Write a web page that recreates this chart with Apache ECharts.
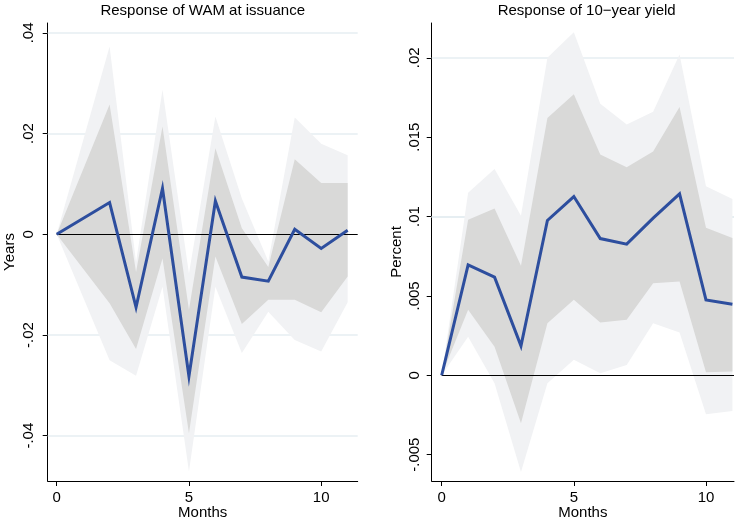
<!DOCTYPE html>
<html>
<head>
<meta charset="utf-8">
<script src="https://cdn.jsdelivr.net/npm/echarts@6/dist/echarts.min.js"></script>
<style>html,body{margin:0;padding:0;background:#fff}#c{width:735px;height:525px}</style>
</head>
<body>
<div id="c"></div>
<script>
// ---------- Data: Response of WAM at issuance (Years) ----------
const wamMonths   = [0, 2, 3, 4, 5, 6, 7, 8, 9, 10, 11];
const wamIRF      = [0, 0.0063, -0.0145, 0.0091, -0.0282, 0.0066, -0.0085, -0.0093, 0.0010, -0.0028, 0.0008];
const wamInnerUp  = [0, 0.0258, -0.0075, 0.0214, -0.0150, 0.0171, 0.0012, -0.0065, 0.0149, 0.0102, 0.0102];
const wamOuterUp  = [0, 0.0373, -0.0055, 0.0287, -0.0078, 0.0234, 0.0071, -0.0054, 0.0232, 0.0180, 0.0157];
const wamInnerLo  = [0, -0.0137, -0.0228, -0.0048, -0.0395, -0.0044, -0.0178, -0.0130, -0.0130, -0.0155, -0.0084];
const wamOuterLo  = [0, -0.0250, -0.0281, -0.0104, -0.0471, -0.0104, -0.0236, -0.0154, -0.0210, -0.0233, -0.0135];
const wamYTicks   = [-0.04, -0.02, 0, 0.02, 0.04];

// ---------- Data: Response of 10-year yield (Percent) ----------
const yldMonths   = [0, 1, 2, 3, 4, 5, 6, 7, 8, 9, 10, 11];
const yldIRF      = [0, 0.00696, 0.00618, 0.00185, 0.00975, 0.01126, 0.00861, 0.00826, 0.00990, 0.01143, 0.00475, 0.00448];
const yldInnerUp  = [0, 0.0098, 0.0105, 0.0069, 0.0162, 0.0177, 0.0139, 0.0131, 0.0141, 0.0169, 0.0093, 0.00864];
const yldOuterUp  = [0, 0.0115, 0.0130, 0.01005, 0.0200, 0.0216, 0.0171, 0.0158, 0.0166, 0.0202, 0.0119, 0.0111];
const yldInnerLo  = [0, 0.00412, 0.0018, -0.00303, 0.00328, 0.00475, 0.00332, 0.00349, 0.0058, 0.0059, 0.00019, 0.00023];
const yldOuterLo  = [0, 0.00243, -0.0005, -0.0061, -0.0005, 0.00097, 0.00013, 0.00065, 0.00328, 0.00269, -0.00246, -0.00225];
const yldYTicks   = [-0.005, 0, 0.005, 0.01, 0.015, 0.02];

const xTicks = [0, 5, 10];
const titles = ['Response of WAM at issuance', 'Response of 10\u2212year yield'];
const yNames = ['Years', 'Percent'];
const xName = 'Months';

// ---------- helpers ----------
const FONT = 'Liberation Sans, Arial, Helvetica, sans-serif';
const FS = 15;
const pairs = (xs, ys) => xs.map((x, i) => [x, ys[i]]);
function stataFmt(v) {
  if (Math.abs(v) < 1e-12) return '0';
  let s = String(+v.toPrecision(6));
  return s.replace(/^(-?)0\./, '$1.');
}

const panels = [
  { months: wamMonths, irf: wamIRF, iu: wamInnerUp, ou: wamOuterUp, il: wamInnerLo, ol: wamOuterLo,
    ticks: wamYTicks, xmin: -0.34, xmax: 11.38, ymin: -0.049, ymax: 0.04197 },
  { months: yldMonths, irf: yldIRF, iu: yldInnerUp, ou: yldOuterUp, il: yldInnerLo, ol: yldOuterLo,
    ticks: yldYTicks, xmin: -0.378, xmax: 11.06, ymin: -0.00666, ymax: 0.02219 }
];

const grids = [
  { left: 47.7, right: 377.3, top: 23, bottom: 44, outerBoundsMode: 'none', containLabel: false },
  { left: 431.7, right: 1, top: 23, bottom: 44, outerBoundsMode: 'none', containLabel: false }
];

// band drawn as one polygon through the axis scales (api.coord)
function bandSeries(g, months, lo, hi, color, z) {
  return {
    type: 'custom', xAxisIndex: g, yAxisIndex: g, silent: true, z: z, clip: true,
    data: pairs(months, hi),
    renderItem: function (params, api) {
      if (params.dataIndex !== 0) return null;
      const pts = [];
      for (let i = 0; i < months.length; i++) pts.push(api.coord([months[i], hi[i]]));
      for (let i = months.length - 1; i >= 0; i--) pts.push(api.coord([months[i], lo[i]]));
      return { type: 'polygon', shape: { points: pts }, style: { fill: color, stroke: null } };
    }
  };
}

const xAxes = [], yAxes = [], series = [];
panels.forEach((p, g) => {
  xAxes.push({
    type: 'value', gridIndex: g, min: p.xmin, max: p.xmax,
    name: xName, nameLocation: 'middle', nameGap: 24, nameMoveOverlap: false,
    nameTextStyle: { fontFamily: FONT, fontSize: FS, color: '#000' },
    axisLine: { onZero: false, lineStyle: { color: '#000', width: 1 } },
    axisTick: { show: true, length: 5, lineStyle: { color: '#000' }, customValues: xTicks },
    axisLabel: { fontFamily: FONT, fontSize: FS, color: '#000', margin: 9, customValues: xTicks,
                 formatter: v => String(v) },
    splitLine: { show: false }
  });
  yAxes.push({
    type: 'value', gridIndex: g, min: p.ymin, max: p.ymax,
    name: yNames[g], nameLocation: 'middle', nameGap: g === 0 ? 30 : 27, nameMoveOverlap: false,
    nameTextStyle: { fontFamily: FONT, fontSize: FS, color: '#000' },
    axisLine: { show: true, onZero: false, lineStyle: { color: '#000', width: 1 } },
    axisTick: { show: true, length: 5, lineStyle: { color: '#000' }, customValues: p.ticks },
    axisLabel: { fontFamily: FONT, fontSize: FS, color: '#000', rotate: 90, margin: g === 0 ? 11 : 9,
                 customValues: p.ticks, formatter: v => stataFmt(v) },
    splitLine: { show: false }
  });

  // gridlines (beneath bands)
  series.push({
    type: 'line', xAxisIndex: g, yAxisIndex: g, data: [], silent: true, z: 1,
    markLine: {
      silent: true, symbol: 'none', z: 1, animation: false,
      label: { show: false },
      lineStyle: { color: '#e6eef2', width: 1.6, type: 'solid' },
      data: p.ticks.filter(v => v !== 0).map(v => ({ yAxis: v }))
    }
  });
  series.push(bandSeries(g, p.months, p.ol, p.ou, '#f1f2f4', 2));
  series.push(bandSeries(g, p.months, p.il, p.iu, '#d9d9d8', 3));
  // zero line
  series.push({
    type: 'line', xAxisIndex: g, yAxisIndex: g, data: [], silent: true, z: 4,
    markLine: {
      silent: true, symbol: 'none', z: 4, animation: false,
      label: { show: false },
      lineStyle: { color: '#000', width: 1.2, type: 'solid' },
      data: [[{ coord: [0, 0] }, { coord: [p.xmax, 0] }]]
    }
  });
  // impulse response
  series.push({
    type: 'line', xAxisIndex: g, yAxisIndex: g, data: pairs(p.months, p.irf),
    showSymbol: false, silent: true, z: 5,
    lineStyle: { color: '#2d4e9e', width: 3, join: 'miter' }
  });
});

const chart = echarts.init(document.getElementById('c'), null, { renderer: 'canvas' });
chart.setOption({
  animation: false,
  backgroundColor: '#ffffff',
  title: [
    { text: titles[0], left: 197.7, top: 0, textAlign: 'center', padding: [3, 5],
      textStyle: { fontFamily: FONT, fontSize: FS, fontWeight: 'normal', color: '#000' } },
    { text: titles[1], left: 581.7, top: 0, textAlign: 'center', padding: [3, 5],
      textStyle: { fontFamily: FONT, fontSize: FS, fontWeight: 'normal', color: '#000' } }
  ],
  grid: grids,
  xAxis: xAxes,
  yAxis: yAxes,
  series: series
});
</script>
</body>
</html>
